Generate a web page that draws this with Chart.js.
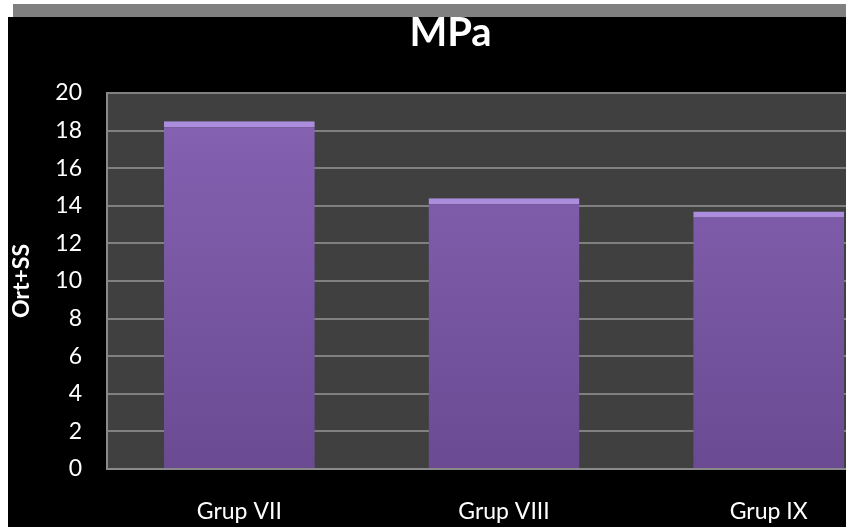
<!DOCTYPE html>
<html>
<head>
<meta charset="utf-8">
<script src="https://cdn.jsdelivr.net/npm/chart.js@4"></script>
<style>
  html, body { margin: 0; padding: 0; overflow: hidden; background: #fff; width: 846px; height: 527px; }
  #wrap { position: absolute; left: 0; top: 0; width: 901px; height: 527px; }
</style>
</head>
<body>
<div id="wrap"><canvas id="c" width="901" height="527"></canvas></div>
<script>
const categories = ["Grup VII", "Grup VIII", "Grup IX"];
const values = [18.5, 14.4, 13.7];
const yTicks = [0, 2, 4, 6, 8, 10, 12, 14, 16, 18, 20];
const chartTitle = "MPa";
const yTitle = "Ort+SS";

const backdrop = {
  id: 'backdrop',
  beforeDraw(chart) {
    const ctx = chart.ctx;
    const W = chart.width, H = chart.height;
    ctx.save();
    ctx.fillStyle = '#ffffff';
    ctx.fillRect(0, 0, W, H);
    ctx.fillStyle = '#808080';
    ctx.fillRect(13, 4, W - 13, 13);
    ctx.fillStyle = '#000000';
    ctx.fillRect(8, 17, W - 8, H - 17);
    const a = chart.chartArea;
    ctx.fillStyle = '#404040';
    ctx.fillRect(a.left, a.top, a.right - a.left, a.bottom - a.top);
    ctx.restore();
  }
};

function barFill(context) {
  const a = context.chart.chartArea;
  if (!a) return '#7a58a4';
  const g = context.chart.ctx.createLinearGradient(0, a.top, 0, a.bottom);
  g.addColorStop(0, '#8763b4');
  g.addColorStop(1, '#6a4b92');
  return g;
}

new Chart(document.getElementById('c'), {
  type: 'bar',
  data: {
    labels: categories,
    datasets: [{
      data: values,
      backgroundColor: barFill,
      borderColor: '#ac8ddd',
      borderWidth: { top: 6, left: 0, right: 0, bottom: 0 },
      borderSkipped: 'bottom',
      barPercentage: 0.57,
      categoryPercentage: 1.0
    }]
  },
  options: {
    responsive: false,
    animation: false,
    devicePixelRatio: 1,
    layout: { padding: 0 },
    plugins: {
      legend: { display: false },
      tooltip: { enabled: false },
      title: {
        display: true,
        text: chartTitle,
        color: '#ffffff',
        font: { family: 'Lato', size: 40, weight: 'bold', lineHeight: 1.0 },
        padding: { top: 13, bottom: 40 }
      }
    },
    scales: {
      x: {
        grid: { display: false, drawTicks: false },
        border: { display: true, color: '#8a8a8a', width: 2 },
        ticks: {
          color: '#ffffff',
          padding: 29,
          maxRotation: 0,
          font: { family: 'Lato', size: 23 }
        },
        afterFit(scale) { scale.height = 58; }
      },
      y: {
        min: 0,
        max: 20,
        afterBuildTicks(scale) { scale.ticks = yTicks.map(v => ({ value: v })); },
        grid: { color: '#808080', lineWidth: 2, drawTicks: false },
        border: { display: true, color: '#8a8a8a', width: 2 },
        ticks: {
          color: '#ffffff',
          padding: 25,
          font: { family: 'Lato', size: 23 }
        },
        title: {
          display: true,
          text: yTitle,
          color: '#ffffff',
          font: { family: 'Lato', size: 23, weight: 'bold', lineHeight: 1.2 },
          padding: { top: 8, bottom: 0 }
        },
        afterFit(scale) { scale.width = 107; }
      }
    }
  },
  plugins: [backdrop]
});
</script>
</body>
</html>
